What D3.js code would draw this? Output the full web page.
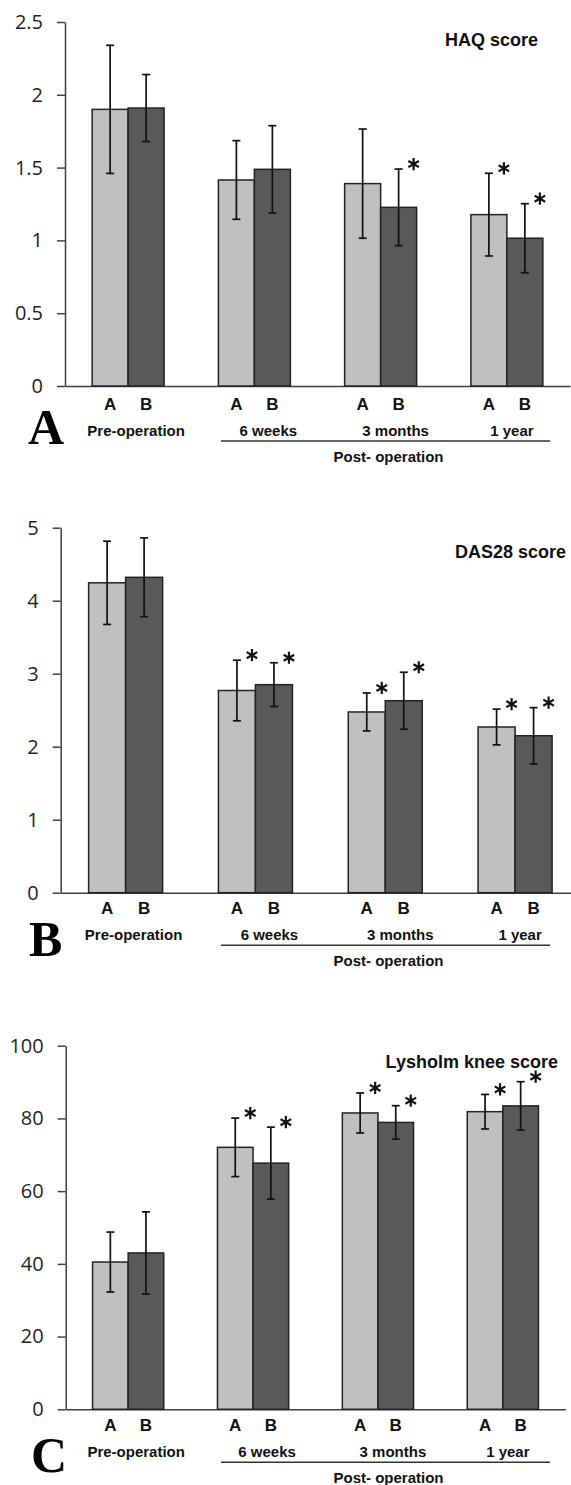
<!DOCTYPE html>
<html>
<head>
<meta charset="utf-8">
<script src="https://cdn.jsdelivr.net/npm/d3@7"></script>
<style>
  html, body { margin: 0; padding: 0; background: #fff; }
  svg { display: block; }
  .axis path, .axis line { stroke: #404040; stroke-width: 1.5; }
  .axis text { font-family: 'Open Sans', sans-serif; font-size: 20px; fill: #1f1f1f; }
  .lbl { font-family: 'Liberation Sans', Arial, sans-serif; font-weight: bold; fill: #111; }
</style>
</head>
<body>
<div id="chart"></div>
<script>
const groups = ['Pre-operation', '6 weeks', '3 months', '1 year'];
const arms = ['A', 'B'];

// HAQ score
const haqTicks = [0, 0.5, 1, 1.5, 2, 2.5];
const haqA = [1.90, 1.415, 1.39, 1.177];
const haqB = [1.909, 1.488, 1.227, 1.015];
const haqSdA = [0.44, 0.27, 0.375, 0.284];
const haqSdB = [0.23, 0.30, 0.263, 0.237];
const haqSigA = [false, false, false, true];
const haqSigB = [false, false, true, true];

// DAS28 score
const dasTicks = [0, 1, 2, 3, 4, 5];
const dasA = [4.245, 2.77, 2.476, 2.27];
const dasB = [4.32, 2.85, 2.63, 2.15];
const dasSdA = [0.57, 0.415, 0.26, 0.245];
const dasSdB = [0.54, 0.30, 0.39, 0.385];
const dasSigA = [false, true, true, true];
const dasSigB = [false, true, true, true];

// Lysholm knee score
const lysTicks = [0, 20, 40, 60, 80, 100];
const lysA = [40.5, 72.05, 81.5, 81.85];
const lysB = [43.0, 67.7, 78.9, 83.45];
const lysSdA = [8.25, 8.05, 5.5, 4.75];
const lysSdB = [11.3, 9.9, 4.6, 6.65];
const lysSigA = [false, true, true, true];
const lysSigB = [false, true, true, true];

const width = 571;
const height = 1485;
const labelDx = [8, 14, 15, 5];
const star = d3.symbol(d3.symbolAsterisk || d3.symbolCross, 105)();

const svg = d3.select('#chart').append('svg')
  .attr('width', width)
  .attr('height', height);

function drawPanel(p) {
  const g = svg.append('g');

  const x0 = d3.scaleBand()
    .domain(groups)
    .range([p.left, p.right])
    .paddingInner(0.43)
    .paddingOuter(0.215);
  const x1 = d3.scaleBand()
    .domain(arms)
    .range([0, x0.bandwidth()]);
  const y = d3.scaleLinear()
    .domain([0, p.ticks[p.ticks.length - 1]])
    .range([p.base, p.top]);

  const rows = [];
  groups.forEach((grp, i) => {
    rows.push({ grp, arm: 'A', v: p.a[i], sd: p.sdA[i], sig: p.sigA[i] });
    rows.push({ grp, arm: 'B', v: p.b[i], sd: p.sdB[i], sig: p.sigB[i] });
  });
  const cx = (d) => x0(d.grp) + x1(d.arm) + x1.bandwidth() / 2;

  g.append('g')
    .attr('class', 'axis')
    .attr('transform', `translate(0,${p.base})`)
    .call(d3.axisBottom(x0).tickSize(0).tickSizeOuter(0).tickFormat(''))
    .call((s) => s.selectAll('.tick').remove());

  g.selectAll('rect.bar')
    .data(rows)
    .enter()
    .append('rect')
    .attr('class', 'bar')
    .attr('x', (d) => x0(d.grp) + x1(d.arm))
    .attr('y', (d) => y(d.v))
    .attr('width', x1.bandwidth())
    .attr('height', (d) => p.base - y(d.v))
    .attr('fill', (d) => d.arm === 'A' ? '#c0c0c0' : '#595959')
    .attr('stroke', '#222')
    .attr('stroke-width', 1.5);

  const err = g.selectAll('g.err')
    .data(rows)
    .enter()
    .append('g')
    .attr('class', 'err')
    .attr('stroke', '#111')
    .attr('stroke-width', 1.7);
  err.append('line')
    .attr('x1', cx).attr('x2', cx)
    .attr('y1', (d) => y(d.v + d.sd))
    .attr('y2', (d) => y(d.v - d.sd));
  [1, -1].forEach((s) => {
    err.append('line')
      .attr('x1', (d) => cx(d) - 4).attr('x2', (d) => cx(d) + 4)
      .attr('y1', (d) => y(d.v + s * d.sd))
      .attr('y2', (d) => y(d.v + s * d.sd));
  });

  // significance asterisks, up and right of the error cap
  g.selectAll('path.star')
    .data(rows.filter((d) => d.sig))
    .enter()
    .append('path')
    .attr('class', 'star')
    .attr('d', star)
    .attr('transform', (d) => `translate(${cx(d) + 15},${y(d.v + d.sd) - 5})`)
    .attr('fill', 'none')
    .attr('stroke', '#111')
    .attr('stroke-width', 2.2);

  g.append('g')
    .attr('class', 'axis')
    .attr('transform', `translate(${p.left},0)`)
    .call(d3.axisLeft(y)
      .tickValues(p.ticks)
      .tickFormat((d) => String(d))
      .tickSize(8)
      .tickPadding(14)
      .tickSizeOuter(0));

  const lab = p.base + p.labShift;
  g.selectAll('text.arm')
    .data(rows)
    .enter()
    .append('text')
    .attr('class', 'lbl arm')
    .attr('x', cx)
    .attr('y', lab + 21)
    .attr('text-anchor', 'middle')
    .style('font-size', '17px')
    .text((d) => d.arm);

  g.selectAll('text.grp')
    .data(groups)
    .enter()
    .append('text')
    .attr('class', 'lbl grp')
    .attr('x', (d, i) => x0(d) + x0.bandwidth() / 2 + labelDx[i])
    .attr('y', lab + 47)
    .attr('text-anchor', 'middle')
    .style('font-size', '15px')
    .text((d) => d);

  const ux1 = 221;
  const ux2 = 550;
  g.append('line')
    .attr('x1', ux1).attr('x2', ux2)
    .attr('y1', lab + 52.5).attr('y2', lab + 52.5)
    .attr('stroke', '#333')
    .attr('stroke-width', 1.5);
  g.append('text')
    .attr('class', 'lbl')
    .attr('x', (ux1 + ux2) / 2 + 3)
    .attr('y', lab + 73)
    .attr('text-anchor', 'middle')
    .style('font-size', '15px')
    .text('Post- operation');

  g.append('text')
    .attr('class', 'lbl')
    .attr('x', p.titleX)
    .attr('y', p.titleY)
    .attr('text-anchor', 'end')
    .style('font-size', '18px')
    .text(p.title);

  g.append('text')
    .attr('x', p.letterX)
    .attr('y', p.letterY)
    .style('font-family', 'Liberation Serif, serif')
    .style('font-weight', 'bold')
    .style('font-size', '50px')
    .style('fill', '#000')
    .text(p.letter);
}

drawPanel({
  ticks: haqTicks, a: haqA, b: haqB, sdA: haqSdA, sdB: haqSdB, sigA: haqSigA, sigB: haqSigB,
  left: 65, right: 570, base: 386, top: 22, labShift: 2.5,
  title: 'HAQ score', titleX: 538, titleY: 45.5, letter: 'A', letterX: 28, letterY: 444
});
drawPanel({
  ticks: dasTicks, a: dasA, b: dasB, sdA: dasSdA, sdB: dasSdB, sigA: dasSigA, sigB: dasSigB,
  left: 60.7, right: 580, base: 892.7, top: 527.7, labShift: 0,
  title: 'DAS28 score', titleX: 566, titleY: 558, letter: 'B', letterX: 29, letterY: 956
});
drawPanel({
  ticks: lysTicks, a: lysA, b: lysB, sdA: lysSdA, sdB: lysSdB, sigA: lysSigA, sigB: lysSigB,
  left: 65.7, right: 565.3, base: 1409.3, top: 1045.7, labShift: 0.5,
  title: 'Lysholm knee score', titleX: 558, titleY: 1068, letter: 'C', letterX: 31, letterY: 1472
});
</script>
</body>
</html>
